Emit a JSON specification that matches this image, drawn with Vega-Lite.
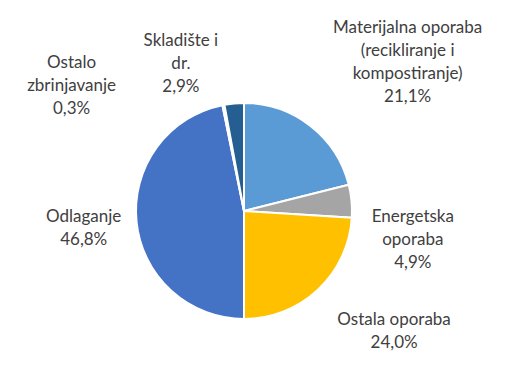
{
  "$schema": "https://vega.github.io/schema/vega-lite/v6.json",
  "autosize": "none",
  "width": 488,
  "height": 320,
  "padding": {"left": 0, "top": 51, "right": 23, "bottom": 1},
  "background": "white",
  "view": {"stroke": null},
  "data": {
    "values": [
      {"red": 1, "naziv": "Materijalna oporaba\n(recikliranje i\nkompostiranje)", "udio": 21.1},
      {"red": 2, "naziv": "Energetska\noporaba", "udio": 4.9},
      {"red": 3, "naziv": "Ostala oporaba", "udio": 24.0},
      {"red": 4, "naziv": "Odlaganje", "udio": 46.8},
      {"red": 5, "naziv": "Ostalo\nzbrinjavanje", "udio": 0.3},
      {"red": 6, "naziv": "Skladište i\ndr.", "udio": 2.9}
    ]
  },
  "transform": [
    {"calculate": "datum.naziv + '\\n' + replace(format(datum.udio, '.1f'), '.', ',') + '%'", "as": "oznaka"}
  ],
  "encoding": {
    "theta": {"field": "udio", "type": "quantitative", "stack": true},
    "order": {"field": "red", "type": "quantitative"}
  },
  "layer": [
    {
      "mark": {"type": "arc", "outerRadius": 108, "stroke": "white", "strokeWidth": 2},
      "encoding": {
        "color": {
          "field": "red",
          "type": "nominal",
          "scale": {"domain": [1, 2, 3, 4, 5, 6], "range": ["#5B9BD5", "#A5A5A5", "#FFC000", "#4472C4", "#FFFFFF", "#255E91"]},
          "legend": null
        }
      }
    },
    {
      "mark": {
        "type": "text",
        "lineBreak": "\n",
        "font": "Lato",
        "fontSize": 17,
        "lineHeight": 23,
        "fill": "#404040",
        "align": "center",
        "baseline": "middle",
        "radius": {"expr": "[222, 171, 191, 161, 214, 162][datum.red - 1]"},
        "thetaOffset": {"expr": "[0.166, 0.25, -0.15, 0.007, -0.745, -0.309][datum.red - 1]"},
        "dy": {"expr": "2 - (length(split(datum.oznaka, '\\n')) - 1) * 11.5"}
      },
      "encoding": {
        "detail": {"field": "red", "type": "nominal"},
        "text": {"field": "oznaka", "type": "nominal"}
      }
    }
  ]
}
